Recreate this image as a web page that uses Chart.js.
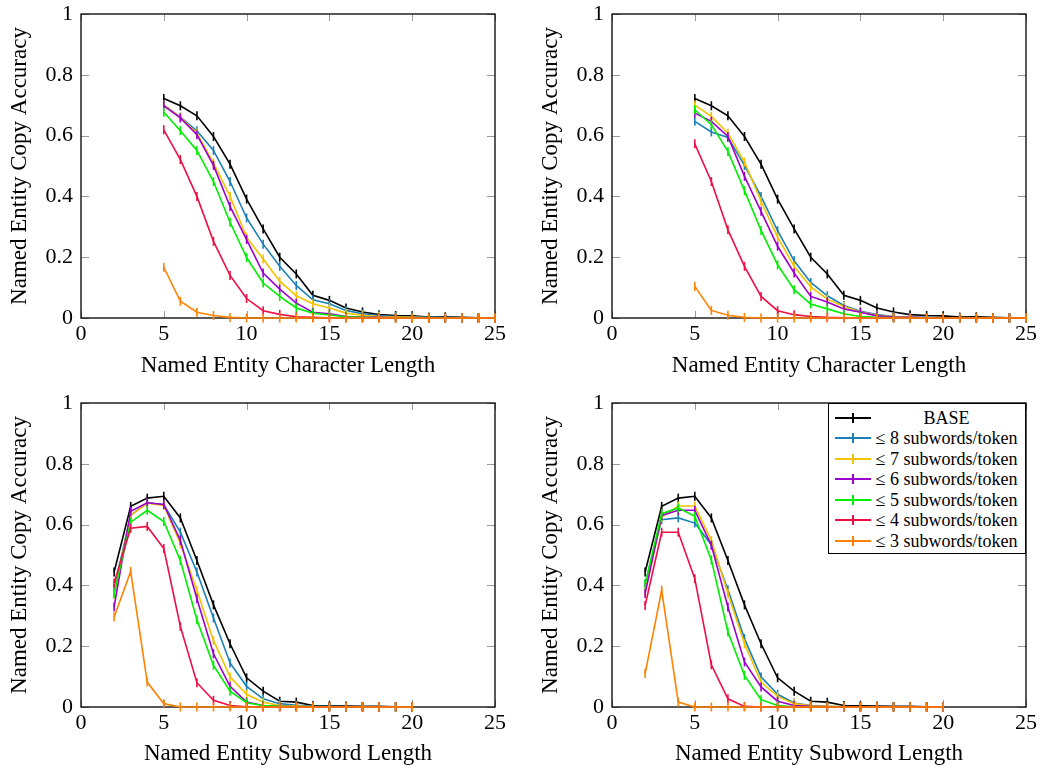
<!DOCTYPE html>
<html><head><meta charset="utf-8">
<script src="https://cdn.jsdelivr.net/npm/chart.js@4.4.1/dist/chart.umd.min.js"></script>
<style>
html,body{margin:0;padding:0;background:#fff;}
#wrap{position:relative;width:1043px;height:769px;overflow:hidden;background:#fff;}
canvas{position:absolute;}
#legend{position:absolute;left:828px;top:403px;width:198px;height:151px;border:1px solid #000;background:#fff;box-sizing:border-box;font-family:'Liberation Serif',serif;font-size:18px;color:#000;}
.row{position:absolute;left:0;height:20px;width:100%;}
.sw{position:absolute;left:6px;top:9px;width:36px;height:2px;}
.sw i{position:absolute;left:17px;top:-4px;width:2px;height:10px;}
.lab{position:absolute;left:45px;right:6px;text-align:center;top:0;line-height:20px;white-space:nowrap;}
</style></head>
<body>
<div id="wrap">
<canvas id="c1" width="521" height="385" style="left:0;top:0;width:521px;height:385px"></canvas>
<canvas id="c2" width="522" height="385" style="left:521px;top:0;width:522px;height:385px"></canvas>
<canvas id="c3" width="521" height="384" style="left:0;top:385px;width:521px;height:384px"></canvas>
<canvas id="c4" width="522" height="384" style="left:521px;top:385px;width:522px;height:384px"></canvas>
<div id="legend"></div>
</div>
<script>
// ---------- data ----------
const seriesNames = ['BASE','≤ 8 subwords/token','≤ 7 subwords/token','≤ 6 subwords/token','≤ 5 subwords/token','≤ 4 subwords/token','≤ 3 subwords/token'];
const seriesColors = ['#000000','#1a80b6','#f2c300','#9c00cc','#00ee00','#ee0f45','#ff8200'];

const charLengths = [5,6,7,8,9,10,11,12,13,14,15,16,17,18,19,20,21,22,23,24,25];
const subwordLengths = [2,3,4,5,6,7,8,9,10,11,12,13,14,15,16,17,18,19,20];
const xTicks = [0,5,10,15,20,25];
const yTicks = [0,0.2,0.4,0.6,0.8,1];

// top-left: character length
const baseChar = [0.722,0.698,0.665,0.597,0.506,0.391,0.293,0.200,0.145,0.075,0.058,0.033,0.020,0.011,0.008,0.007,0.003,0.004,0.002,0.001,0.001];
const tlSub8 = [0.701,0.661,0.616,0.551,0.449,0.329,0.243,0.170,0.107,0.060,0.047,0.025,0.014,0.008,0.005,0.004,0.002,0.002,0.001,0.001,0];
const tlSub7 = [0.700,0.660,0.608,0.510,0.400,0.266,0.194,0.121,0.073,0.047,0.033,0.016,0.009,0.005,0.003,0.002,0.001,0.001,0,0,0];
const tlSub6 = [0.698,0.658,0.603,0.502,0.367,0.258,0.148,0.095,0.049,0.019,0.014,0.005,0.003,0.002,0.001,0.001,0,0,0,0,0];
const tlSub5 = [0.677,0.616,0.551,0.449,0.315,0.199,0.115,0.071,0.033,0.016,0.010,0.004,0.002,0.001,0.001,0,0,0,0,0,0];
const tlSub4 = [0.619,0.521,0.400,0.252,0.140,0.064,0.024,0.012,0.004,0.002,0.001,0,0,0,0,0,0,0,0,0,0];
const tlSub3 = [0.167,0.055,0.019,0.008,0.002,0,0,0,0,0,0,0,0,0,0,0,0,0,0,0,0];

// top-right: character length
const trSub8 = [0.647,0.612,0.594,0.502,0.400,0.287,0.188,0.117,0.073,0.041,0.022,0.011,0.005,0.003,0.002,0.001,0.001,0,0,0,0];
const trSub7 = [0.700,0.663,0.608,0.513,0.384,0.266,0.170,0.102,0.062,0.038,0.020,0.009,0.004,0.002,0.001,0.001,0,0,0,0,0];
const trSub6 = [0.674,0.647,0.597,0.466,0.351,0.236,0.148,0.071,0.053,0.030,0.019,0.007,0.003,0.002,0.001,0,0,0,0,0,0];
const trSub5 = [0.685,0.636,0.548,0.419,0.288,0.175,0.093,0.046,0.030,0.014,0.005,0.002,0.001,0,0,0,0,0,0,0,0];
const trSub4 = [0.573,0.449,0.290,0.170,0.071,0.024,0.011,0.005,0.002,0.001,0,0,0,0,0,0,0,0,0,0,0];
const trSub3 = [0.104,0.025,0.009,0.002,0,0,0,0,0,0,0,0,0,0,0,0,0,0,0,0,0];

// bottom-left: subword length
const baseSub = [0.444,0.660,0.687,0.693,0.622,0.482,0.336,0.208,0.096,0.052,0.019,0.016,0.005,0.004,0.003,0.002,0.002,0.001,0.001];
const blSub8 = [0.390,0.630,0.672,0.665,0.575,0.444,0.293,0.145,0.068,0.027,0.011,0.006,0.003,0.002,0.001,0.001,0,0,0];
const blSub7 = [0.370,0.630,0.670,0.663,0.537,0.384,0.219,0.099,0.042,0.016,0.005,0.003,0.001,0.001,0,0,0,0,0];
const blSub6 = [0.329,0.644,0.672,0.666,0.548,0.356,0.175,0.068,0.016,0.005,0.002,0.001,0,0,0,0,0,0,0];
const blSub5 = [0.373,0.608,0.647,0.610,0.482,0.287,0.137,0.052,0.014,0.005,0.002,0.001,0,0,0,0,0,0,0];
const blSub4 = [0.408,0.588,0.594,0.521,0.265,0.080,0.022,0.005,0.001,0,0,0,0,0,0,0,0,0,0];
const blSub3 = [0.296,0.446,0.082,0.011,0,0,0,0,0,0,0,0,0,0,0,0,0,0,0];

// bottom-right: subword length
const brSub8 = [0.405,0.616,0.622,0.605,0.534,0.386,0.225,0.099,0.042,0.013,0.005,0.002,0.001,0,0,0,0,0,0];
const brSub7 = [0.380,0.625,0.661,0.661,0.548,0.373,0.208,0.082,0.035,0.011,0.004,0.002,0.001,0,0,0,0,0,0];
const brSub6 = [0.373,0.630,0.647,0.647,0.532,0.329,0.148,0.066,0.019,0.005,0.002,0.001,0,0,0,0,0,0,0];
const brSub5 = [0.405,0.636,0.655,0.627,0.484,0.247,0.104,0.024,0.005,0.001,0,0,0,0,0,0,0,0,0];
const brSub4 = [0.334,0.575,0.575,0.422,0.139,0.027,0.002,0,0,0,0,0,0,0,0,0,0,0,0];
const brSub3 = [0.110,0.384,0.016,0,0,0,0,0,0,0,0,0,0,0,0,0,0,0,0];

const xTitleChar = 'Named Entity Character Length';
const xTitleSub = 'Named Entity Subword Length';
const yTitle = 'Named Entity Copy Accuracy';

// ---------- drawing ----------
const SERIF = "'Liberation Serif', 'DejaVu Serif', serif";

const framePlugin = {
  id: 'frame',
  beforeDatasetsDraw(chart) {
    const {ctx, chartArea: a, scales: {x, y}} = chart;
    ctx.save();
    ctx.strokeStyle = '#9a9a9a';
    ctx.lineWidth = 1;
    const seg = (x1, y1, x2, y2) => { ctx.beginPath(); ctx.moveTo(x1, y1); ctx.lineTo(x2, y2); ctx.stroke(); };
    x.ticks.forEach(t => {
      const px = Math.round(x.getPixelForValue(t.value)) + 0.5;
      seg(px, a.bottom, px, a.bottom - 7);
      seg(px, a.top, px, a.top + 7);
    });
    y.ticks.forEach(t => {
      const py = Math.round(y.getPixelForValue(t.value)) + 0.5;
      seg(a.left, py, a.left + 8, py);
      seg(a.right, py, a.right - 8, py);
    });
    ctx.strokeStyle = '#000';
    ctx.lineWidth = 1.3;
    ctx.strokeRect(a.left, a.top, a.right - a.left, a.bottom - a.top);
    ctx.restore();
  }
};

function makePanel(id, xs, series, xTitle, pad, xAxisH, xTitlePadBottom) {
  const datasets = series.map((vals, i) => ({
    label: seriesNames[i],
    data: xs.map((xv, k) => ({x: xv, y: vals[k]})),
    borderColor: seriesColors[i],
    backgroundColor: seriesColors[i],
    borderWidth: 1.6,
    pointStyle: 'line',
    rotation: 90,
    pointRadius: 4.5,
    pointBorderWidth: 1.6,
    pointBorderColor: seriesColors[i],
    pointHoverRadius: 4.5,
    tension: 0,
    clip: false,
    order: series.length - i
  }));
  return new Chart(document.getElementById(id), {
    type: 'line',
    data: {datasets},
    plugins: [framePlugin],
    options: {
      responsive: false,
      animation: false,
      events: [],
      layout: {padding: pad},
      plugins: {legend: {display: false}, tooltip: {enabled: false}},
      scales: {
        x: {
          type: 'linear', min: 0, max: 25,
          afterBuildTicks: s => { s.ticks = xTicks.map(v => ({value: v})); },
          afterFit: s => { s.height = xAxisH; s.paddingLeft = 0; s.paddingRight = 0; },
          grid: {display: false, drawTicks: false},
          border: {display: false},
          ticks: {padding: 3, color: '#000', font: {family: SERIF, size: 22}, maxRotation: 0, autoSkip: false,
                  callback: v => String(v)},
          title: {display: true, text: xTitle, color: '#000', font: {family: SERIF, size: 23}, padding: {top: 0, bottom: xTitlePadBottom}}
        },
        y: {
          type: 'linear', min: 0, max: 1,
          afterBuildTicks: s => { s.ticks = yTicks.map(v => ({value: v})); },
          afterFit: s => { s.width = 81; s.paddingTop = 0; s.paddingBottom = 0; },
          grid: {display: false, drawTicks: false},
          border: {display: false},
          ticks: {padding: 8, color: '#000', font: {family: SERIF, size: 22}, autoSkip: false,
                  callback: v => String(Math.round(v * 10) / 10)},
          title: {display: true, text: yTitle, color: '#000', font: {family: SERIF, size: 23}, padding: {top: 6, bottom: 0}}
        }
      }
    }
  });
}

makePanel('c1', charLengths, [baseChar, tlSub8, tlSub7, tlSub6, tlSub5, tlSub4, tlSub3], xTitleChar,
  {left: 0, top: 14, right: 26, bottom: 0}, 67, 5);
makePanel('c2', charLengths, [baseChar, trSub8, trSub7, trSub6, trSub5, trSub4, trSub3], xTitleChar,
  {left: 10, top: 14, right: 17, bottom: 0}, 67, 5);
makePanel('c3', subwordLengths, [baseSub, blSub8, blSub7, blSub6, blSub5, blSub4, blSub3], xTitleSub,
  {left: 0, top: 18, right: 26, bottom: 0}, 62, 1);
makePanel('c4', subwordLengths, [baseSub, brSub8, brSub7, brSub6, brSub5, brSub4, brSub3], xTitleSub,
  {left: 10, top: 18, right: 17, bottom: 0}, 62, 1);

// legend (HTML, inside bottom-right panel)
const legend = document.getElementById('legend');
const rowCenters = [13.5, 34, 54.5, 75, 95.5, 116, 136.5];
seriesNames.forEach((name, i) => {
  const row = document.createElement('div');
  row.className = 'row';
  row.style.top = (rowCenters[i] - 10) + 'px';
  row.innerHTML = '<div class="sw" style="background:' + seriesColors[i] + '"><i style="background:' + seriesColors[i] + '"></i></div>' +
                  '<div class="lab">' + name + '</div>';
  legend.appendChild(row);
});
</script>
</body></html>
